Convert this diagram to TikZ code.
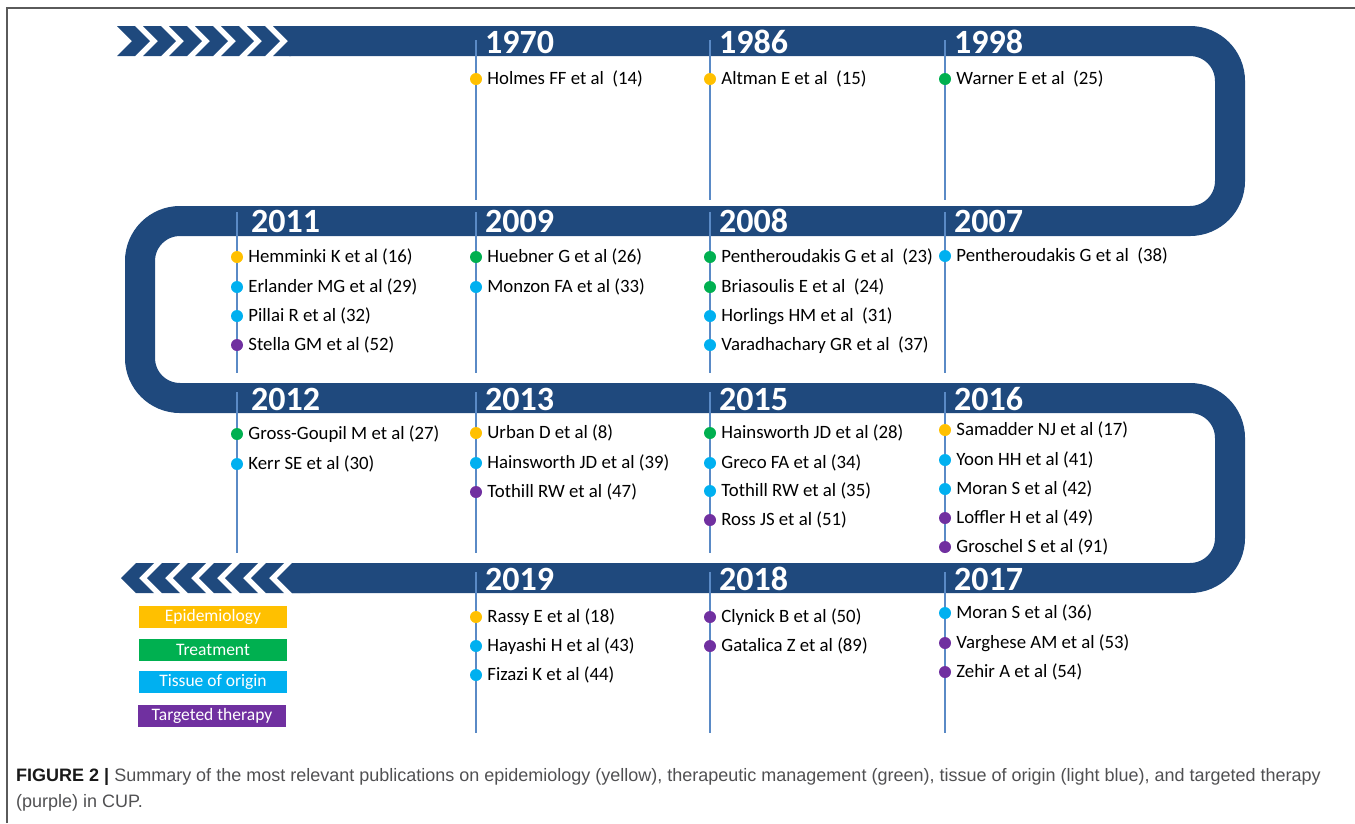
\documentclass[tikz,border=0pt]{standalone}
\usepackage{fontspec}
\setmainfont{Carlito}
\newfontfamily\capfont{Liberation Sans}
\usepackage{tikz}
\usetikzlibrary{positioning}
\definecolor{BandBlue}{HTML}{1F497D}
\definecolor{TickBlue}{HTML}{5A8AC6}
\definecolor{EpiYellow}{HTML}{FFC000}
\definecolor{TreatGreen}{HTML}{00B050}
\definecolor{TissueBlue}{HTML}{00B0F0}
\definecolor{TargetPurple}{HTML}{7030A0}
\definecolor{CapGray}{HTML}{505052}
\definecolor{FrameGray}{HTML}{5A5A5A}
\newcommand{\pub}[5]{%
  \node[dot,fill=#4] (#1) at (#2,#3) {};
  \node[entry,right=5pt of #1] (#1t) {#5};}

\begin{document}
\begin{tikzpicture}[x=1pt,y=-1pt,
    dot/.style={circle,inner sep=0pt,minimum size=12pt},
    entry/.style={inner sep=0pt,font=\fontsize{18.8}{22}\selectfont},
    year/.style={anchor=west,inner sep=0pt,text=white,font=\fontsize{34}{40}\selectfont\bfseries},
    tick/.style={TickBlue,line width=1.8pt},
    legbox/.style={minimum width=148pt,minimum height=22pt,inner sep=0pt,text=white,font=\fontsize{17.5}{20}\selectfont},
    capline/.style={anchor=west,inner sep=0pt,text=CapGray,font=\capfont\fontsize{18}{21}\selectfont}]
  \useasboundingbox (0,0) rectangle (1355,823);

  % Serpentine band
  \draw[BandBlue,line width=30pt,rounded corners=40pt]
    (289,41) -- (1230,41) -- (1230,221) -- (140,221) -- (140,398)
    -- (1230,398) -- (1230,578) -- (292,578);

  % Chevrons at both ends
  \foreach \k in {0,...,6} {
    \fill[BandBlue] ({117+26*\k},26) -- ++(18,0) -- ++(15,15) -- ++(-15,15)
      -- ++(-18,0) -- ++(15,-15) -- cycle;
    \fill[BandBlue] ({121+26*\k},578) -- ++(15,-15) -- ++(18,0) -- ++(-15,15)
      -- ++(15,15) -- ++(-18,0) -- cycle;
  }

  % Year ticks
  \foreach \x in {476,710,945} \draw[tick] (\x,40) -- (\x,200);
  \foreach \x in {237,476,710,945} \draw[tick] (\x,212) -- (\x,373);
  \foreach \x in {237,476,710,945} \draw[tick] (\x,392) -- (\x,553);
  \foreach \x in {476,710,945} \draw[tick] (\x,572) -- (\x,733);

  % Years
  \node[year] (y1970) at (485,42) {1970};
  \node[year] (y1986) at (719,42) {1986};
  \node[year] (y1998) at (954,42) {1998};
  \node[year] (y2011) at (251,221) {2011};
  \node[year] (y2009) at (485,221) {2009};
  \node[year] (y2008) at (719,221) {2008};
  \node[year] (y2007) at (954,221) {2007};
  \node[year] (y2012) at (251,399) {2012};
  \node[year] (y2013) at (485,399) {2013};
  \node[year] (y2015) at (719,399) {2015};
  \node[year] (y2016) at (954,399) {2016};
  \node[year] (y2019) at (485,579) {2019};
  \node[year] (y2018) at (719,579) {2018};
  \node[year] (y2017) at (954,579) {2017};

  % Publications, top row
  \pub{p1970a}{476}{79}{EpiYellow}{Holmes FF et al\ \ (14)}
  \pub{p1986a}{710}{79}{EpiYellow}{Altman E et al\ \ (15)}
  \pub{p1998a}{945}{79}{TreatGreen}{Warner E et al\ \ (25)}

  % Second row
  \pub{p2011a}{237}{257}{EpiYellow}{Hemminki K et al (16)}
  \pub{p2011b}{237}{287}{TissueBlue}{Erlander MG et al (29)}
  \pub{p2011c}{237}{316}{TissueBlue}{Pillai R et al (32)}
  \pub{p2011d}{237}{345}{TargetPurple}{Stella GM et al (52)}
  \pub{p2009a}{476}{257}{TreatGreen}{Huebner G et al (26)}
  \pub{p2009b}{476}{287}{TissueBlue}{Monzon FA et al (33)}
  \pub{p2008a}{710}{257}{TreatGreen}{Pentheroudakis G et al\ \ (23)}
  \pub{p2008b}{710}{287}{TreatGreen}{Briasoulis E et al\ \ (24)}
  \pub{p2008c}{710}{316}{TissueBlue}{Horlings HM et al\ \ (31)}
  \pub{p2008d}{710}{345}{TissueBlue}{Varadhachary GR et al\ \ (37)}
  \pub{p2007a}{945}{256}{TissueBlue}{Pentheroudakis G et al\ \ (38)}

  % Third row
  \pub{p2012a}{237}{434}{TreatGreen}{Gross-Goupil M et al (27)}
  \pub{p2012b}{237}{464}{TissueBlue}{Kerr SE et al (30)}
  \pub{p2013a}{476}{433}{EpiYellow}{Urban D et al (8)}
  \pub{p2013b}{476}{463}{TissueBlue}{Hainsworth JD et al (39)}
  \pub{p2013c}{476}{492}{TargetPurple}{Tothill RW et al (47)}
  \pub{p2015a}{710}{433}{TreatGreen}{Hainsworth JD et al (28)}
  \pub{p2015b}{710}{463}{TissueBlue}{Greco FA et al (34)}
  \pub{p2015c}{710}{491}{TissueBlue}{Tothill RW et al (35)}
  \pub{p2015d}{710}{520}{TargetPurple}{Ross JS et al (51)}
  \pub{p2016a}{945}{430}{EpiYellow}{Samadder NJ et al (17)}
  \pub{p2016b}{945}{460}{TissueBlue}{Yoon HH et al (41)}
  \pub{p2016c}{945}{489}{TissueBlue}{Moran S et al (42)}
  \pub{p2016d}{945}{518}{TargetPurple}{Loffler H et al (49)}
  \pub{p2016e}{945}{547}{TargetPurple}{Groschel S et al (91)}

  % Bottom row
  \pub{p2019a}{476}{617}{EpiYellow}{Rassy E et al (18)}
  \pub{p2019b}{476}{646}{TissueBlue}{Hayashi H et al (43)}
  \pub{p2019c}{476}{675}{TissueBlue}{Fizazi K et al (44)}
  \pub{p2018a}{710}{617}{TargetPurple}{Clynick B et al (50)}
  \pub{p2018b}{710}{646}{TargetPurple}{Gatalica Z et al (89)}
  \pub{p2017a}{945}{613}{TissueBlue}{Moran S et al (36)}
  \pub{p2017b}{945}{643}{TargetPurple}{Varghese AM et al (53)}
  \pub{p2017c}{945}{672}{TargetPurple}{Zehir A et al (54)}

  % Legend
  \node[legbox,fill=EpiYellow] (lepi) at (213,617) {Epidemiology};
  \node[legbox,fill=TreatGreen] (ltreat) at (213,650) {Treatment};
  \node[legbox,fill=TissueBlue] (ltissue) at (213,682) {Tissue of origin};
  \node[legbox,fill=TargetPurple] (ltarget) at (212,716) {Targeted therapy};

  % Caption
  \node[capline] (cap1) at (16,777) {\textcolor{black!90}{\bfseries FIGURE 2 |} Summary of the most relevant publications on epidemiology (yellow), therapeutic management (green), tissue of origin (light blue), and targeted therapy};
  \node[capline] (cap2) at (16,803) {(purple) in CUP.};

  % Frame
  \draw[FrameGray,line width=1.5pt] (7,823) -- (7,8) -- (1355,8);
\end{tikzpicture}
\end{document}
